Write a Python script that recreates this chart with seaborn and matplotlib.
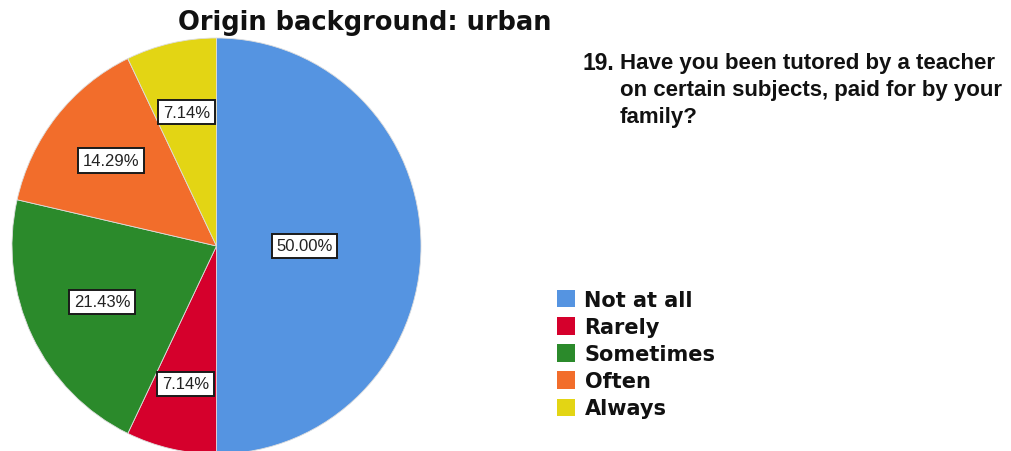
import numpy as np
import matplotlib
matplotlib.use("Agg")
import matplotlib.pyplot as plt
import seaborn as sns
from matplotlib.patches import Patch

categories = ["Not at all", "Rarely", "Sometimes", "Often", "Always"]
percentages = [50.00, 7.14, 21.43, 14.29, 7.14]
colors = ["#5594E1", "#D5002C", "#2B8A2B", "#F26D2B", "#E3D514"]
label_radius = [0.43, 0.68, 0.62, 0.66, 0.66]
title = "Origin background: urban"
q_number = "19."
question_lines = ["Have you been tutored by a teacher",
                  "on certain subjects, paid for by your",
                  "family?"]

sns.set_theme(style="white")
plt.rcParams["font.family"] = ["Liberation Sans", "DejaVu Sans"]

W, H = 1011, 452
fig = plt.figure(figsize=(W / 100, H / 100), dpi=100)
fig.patch.set_facecolor("white")

cx, cy, rx, ry = 216.5, 247, 204.5, 208
ax = fig.add_axes([(cx - rx) / W, (H - cy - ry) / H, 2 * rx / W, 2 * ry / H])
wedges, _ = ax.pie(percentages, colors=colors, startangle=90, counterclock=False,
                   radius=1.0, wedgeprops=dict(linewidth=0.6, edgecolor="#dddddd"))
for w in wedges:
    w.set_clip_on(False)
ax.set_xlim(-1, 1)
ax.set_ylim(-1, 1)
ax.set_aspect("auto")
ax.axis("off")

for w, p, lr in zip(wedges, percentages, label_radius):
    ang = np.deg2rad((w.theta1 + w.theta2) / 2)
    ax.text(lr * np.cos(ang), lr * np.sin(ang), f"{p:.2f}%", ha="center", va="center",
            fontsize=12, color="#222222", family=["Liberation Sans"],
            bbox=dict(boxstyle="square,pad=0.28", facecolor="white",
                      edgecolor="#1a1a1a", linewidth=1.4))

fig.text(365 / W, 1 - 23 / H, title, ha="center", va="center", fontsize=18.5,
         fontweight="bold", color="#111111", family=["DejaVu Sans"])

fig.text(582 / W, 1 - 70 / H, q_number, ha="left", va="baseline", fontsize=16.5,
         fontweight="bold", color="#111111")
for i, line in enumerate(question_lines):
    fig.text(620 / W, 1 - (69 + 27 * i) / H, line, ha="left", va="baseline", fontsize=16,
             fontweight="bold", color="#111111")

handles = [Patch(facecolor=c, edgecolor="none") for c in colors]
leg = fig.legend(handles, categories, loc="upper left",
                 bbox_to_anchor=(557 / W, 1 - 291 / H), frameon=False,
                 prop=dict(weight="bold", size=15, family="DejaVu Sans"),
                 handlelength=0.87, handleheight=0.9,
                 handletextpad=0.45, labelspacing=0.34, borderaxespad=0, borderpad=0)
for t in leg.get_texts():
    t.set_color("#111111")

fig.savefig("out.png", dpi=100, facecolor="white")
